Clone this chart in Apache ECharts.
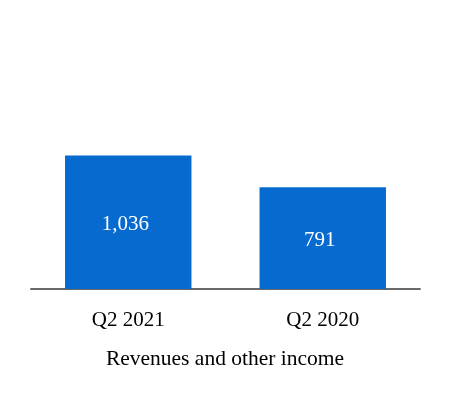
<!DOCTYPE html>
<html><head><meta charset="utf-8">
<script src="https://cdn.jsdelivr.net/npm/echarts@6/dist/echarts.min.js"></script>
<style>html,body{margin:0;padding:0;background:#fff}#c{width:450px;height:400px}</style>
</head><body><div id="c"></div>
<script>
var categories = ['Q2 2021', 'Q2 2020'];
var values = [1036, 791];
var chartTitle = 'Revenues and other income';

var chart = echarts.init(document.getElementById('c'), null, {renderer: 'canvas'});
chart.setOption({
  animation: false,
  backgroundColor: '#ffffff',
  title: {
    text: chartTitle,
    left: 'center',
    top: 343,
    textStyle: {fontFamily: 'Liberation Serif', fontWeight: 'normal', fontSize: 21.5, color: '#000'}
  },
  grid: {left: 31, right: 30, top: 83, bottom: 111, containLabel: false},
  xAxis: {
    type: 'category',
    data: categories,
    axisLine: {lineStyle: {color: '#6a6a6a', width: 2}},
    axisTick: {show: false},
    axisLabel: {fontFamily: 'Liberation Serif', fontSize: 21, color: '#000', margin: 21}
  },
  yAxis: {type: 'value', min: 0, max: 1600, show: false, splitLine: {show: false}},
  series: [{
    type: 'bar',
    data: values,
    barWidth: '65%',
    itemStyle: {color: '#066ACF'},
    label: {
      show: true,
      position: 'inside',
      offset: [-3, 2],
      fontFamily: 'Liberation Serif',
      fontSize: 21,
      color: '#fff',
      formatter: function (p) { return p.value.toLocaleString('en-US'); }
    }
  }]
});
</script></body></html>
